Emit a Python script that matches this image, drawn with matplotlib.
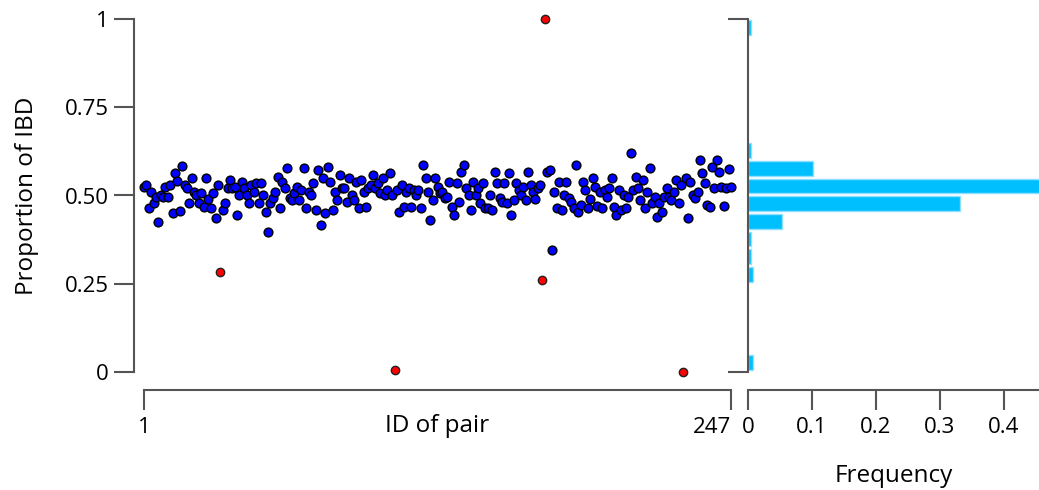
import numpy as np
import matplotlib
matplotlib.use("Agg")
import matplotlib.pyplot as plt

# ---------------- data ----------------
ibd_seg1 = [0.524, 0.53, 0.465, 0.51, 0.48, 0.496, 0.425, 0.50, 0.496, 0.524, 0.496, 0.53,
            0.45, 0.564, 0.54, 0.456, 0.584, 0.53, 0.52, 0.48, 0.55, 0.51, 0.50, 0.48,
            0.507, 0.467, 0.55, 0.49, 0.465, 0.507, 0.436, 0.53, 0.283, 0.459, 0.479, 0.52,
            0.544, 0.52, 0.524, 0.445, 0.50, 0.538, 0.521, 0.50, 0.48, 0.53, 0.51, 0.535]
ibd_seg2 = [0.479, 0.535, 0.50, 0.453, 0.397, 0.48, 0.493, 0.51, 0.552, 0.465, 0.538, 0.52,
            0.578, 0.493, 0.487, 0.507, 0.524, 0.487, 0.516, 0.578, 0.465, 0.51, 0.50, 0.535,
            0.459, 0.572, 0.416, 0.55, 0.45, 0.58, 0.538, 0.459, 0.51, 0.487, 0.558, 0.52,
            0.521, 0.482, 0.55, 0.50, 0.487, 0.538, 0.465, 0.544, 0.51, 0.467, 0.521, 0.53]
ibd_seg3 = [0.558, 0.52, 0.535, 0.507, 0.55, 0.50, 0.516, 0.564, 0.501, 0.005, 0.516, 0.453,
            0.53, 0.467, 0.51, 0.52, 0.467, 0.516, 0.50, 0.516, 0.465, 0.586, 0.55, 0.51,
            0.43, 0.487, 0.55, 0.524, 0.507, 0.51, 0.493, 0.496, 0.538, 0.467, 0.445, 0.535,
            0.482, 0.567, 0.586, 0.521, 0.50, 0.459, 0.538, 0.501, 0.521, 0.48, 0.535, 0.465]
ibd_seg4 = [0.465, 0.50, 0.459, 0.567, 0.535, 0.493, 0.482, 0.535, 0.479, 0.564, 0.445, 0.487,
            0.535, 0.516, 0.50, 0.524, 0.487, 0.567, 0.53, 0.51, 0.49, 0.521, 0.53, 0.26,
            1.0, 0.567, 0.572, 0.345, 0.51, 0.465, 0.538, 0.46, 0.50, 0.538, 0.493, 0.482,
            0.465, 0.586, 0.453, 0.473, 0.538, 0.516, 0.465, 0.49, 0.55, 0.524, 0.47, 0.51]
ibd_seg5 = [0.465, 0.516, 0.496, 0.521, 0.55, 0.467, 0.445, 0.516, 0.459, 0.50, 0.465, 0.496,
            0.62, 0.516, 0.552, 0.521, 0.487, 0.544, 0.465, 0.51, 0.578, 0.479, 0.496, 0.439,
            0.479, 0.453, 0.496, 0.52, 0.496, 0.487, 0.51, 0.544, 0.48, 0.53, 0.0, 0.55,
            0.436, 0.538, 0.501, 0.493, 0.51, 0.60, 0.564, 0.535, 0.473, 0.467, 0.58, 0.521,
            0.60, 0.567, 0.524, 0.47, 0.521, 0.575, 0.525]
outlier_ids = [33, 106, 168, 169, 227]

x_ticks = [1, 247]
x_ticklabels = ["1", "247"]
y_ticks = [0, 0.25, 0.5, 0.75, 1]
y_ticklabels = ["0", "0.25", "0.50", "0.75", "1"]

hist_bin_start = [0.00, 0.25, 0.30, 0.35, 0.40, 0.45, 0.50, 0.55, 0.60, 0.95]
hist_freq = [0.008, 0.008, 0.004, 0.004, 0.053, 0.332, 0.482, 0.101, 0.004, 0.004]
hist_bin_width = 0.05
hist_xticks = [0, 0.1, 0.2, 0.3, 0.4]
hist_xticklabels = ["0", "0.1", "0.2", "0.3", "0.4"]

# ---------------- figure ----------------
ibd = np.array(ibd_seg1 + ibd_seg2 + ibd_seg3 + ibd_seg4 + ibd_seg5)
ids = np.arange(1, len(ibd) + 1)
is_out = np.isin(ids, outlier_ids)

plt.rcParams['font.family'] = ['Open Sans', 'DejaVu Sans']
W, H = 1039, 490
fig = plt.figure(figsize=(W / 100, H / 100), dpi=100)

def px_rect(x0, y0, x1, y1):
    return [x0 / W, 1 - y1 / H, (x1 - x0) / W, (y1 - y0) / H]

spine_c = '#555555'
lw = 1.5
tick_len = 14.4
tick_fs = 16
label_fs = 17.5

ax = fig.add_axes(px_rect(144, 19, 731, 372))
ax.scatter(ids[~is_out], ibd[~is_out], s=40, c='#0000ff', edgecolors='black',
           linewidths=1.0, clip_on=False, zorder=3)
ax.scatter(ids[is_out], ibd[is_out], s=36, c='#ff0000', edgecolors='#222222',
           linewidths=1.0, clip_on=False, zorder=3)
ax.set_xlim(1, 247)
ax.set_ylim(0, 1)
for s in ['top', 'right']:
    ax.spines[s].set_visible(False)
ax.spines['left'].set_position(('outward', 7.2))
ax.spines['bottom'].set_position(('outward', 12.96))
ax.spines['left'].set_bounds(0, 1)
ax.spines['bottom'].set_bounds(1, 247)
for s in ['left', 'bottom']:
    ax.spines[s].set_color(spine_c)
    ax.spines[s].set_linewidth(lw)
ax.set_xticks(x_ticks)
ax.set_xticklabels(x_ticklabels)
ax.set_yticks(y_ticks)
ax.set_yticklabels(y_ticklabels)
ax.tick_params(axis='both', direction='out', length=tick_len, width=lw,
               color=spine_c, labelsize=tick_fs, labelcolor='black')
ax.tick_params(axis='x', pad=5)
ax.tick_params(axis='y', pad=4)
ax.get_xticklabels()[1].set_ha('right')
ax.set_xlabel('ID of pair', fontsize=label_fs, va='baseline', color='black')
ax.xaxis.set_label_coords(0.5, (H - 432 - 118) / 353)
ax.set_ylabel('Proportion of IBD', fontsize=label_fs, va='center', color='black')
ax.yaxis.set_label_coords((27 - 144) / 587, 0.5)

axh = fig.add_axes(px_rect(748, 19, 1039, 372))
axh.barh(np.array(hist_bin_start) + 0.006, hist_freq, height=0.042, align='edge',
         color='#00bfff', edgecolor='#8fe0ff', linewidth=1.0)
axh.set_xlim(0, 0.4547)
axh.set_ylim(0, 1)
for s in ['top', 'right']:
    axh.spines[s].set_visible(False)
axh.spines['bottom'].set_position(('outward', 12.96))
axh.spines['left'].set_bounds(0, 1)
for s in ['left', 'bottom']:
    axh.spines[s].set_color(spine_c)
    axh.spines[s].set_linewidth(lw)
axh.set_yticks([0, 1])
axh.set_yticklabels([])
axh.set_xticks(hist_xticks)
axh.set_xticklabels(hist_xticklabels)
axh.tick_params(axis='both', direction='out', length=tick_len, width=lw,
                color=spine_c, labelsize=tick_fs, labelcolor='black')
axh.tick_params(axis='x', pad=5)
axh.set_xlabel('Frequency', fontsize=label_fs, va='baseline', color='black')
axh.xaxis.set_label_coords(0.5, (H - 482 - 118) / 353)

fig.savefig('out.png', dpi=100)
